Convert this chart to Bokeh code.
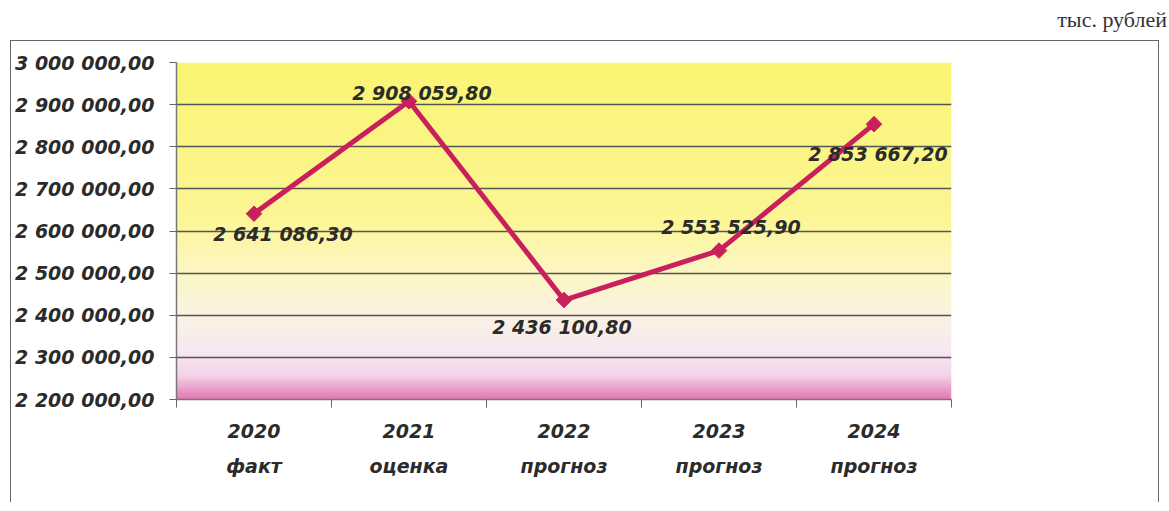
import numpy as np
from bokeh.plotting import figure
from bokeh.models import ColumnDataSource, Range1d, FixedTicker, Div
from bokeh.layouts import column
from bokeh.core.properties import value
from bokeh.embed import file_html
from bokeh.resources import INLINE

# ---- data ----
years = ["2020", "2021", "2022", "2023", "2024"]
kinds = ["факт", "оценка", "прогноз", "прогноз", "прогноз"]
amounts = [2641086.30, 2908059.80, 2436100.80, 2553525.90, 2853667.20]
amount_labels = ["2 641 086,30", "2 908 059,80", "2 436 100,80", "2 553 525,90", "2 853 667,20"]
y_ticks = [2200000, 2300000, 2400000, 2500000, 2600000, 2700000, 2800000, 2900000, 3000000]
y_tick_labels = ["2 200 000,00", "2 300 000,00", "2 400 000,00", "2 500 000,00", "2 600 000,00",
                 "2 700 000,00", "2 800 000,00", "2 900 000,00", "3 000 000,00"]
unit_label = "тыс. рублей"

# label placement (screen px offsets) - style only
lab_dx = [29, 13, -2, 12, 4]
lab_dy = [20, -8, 27, -24, 30]

FONT = "DejaVu Sans"
FS = "19px"
TXT = "#2b2b2b"
LINE = "#c91f5d"

n = len(years)
xc = [i + 0.5 for i in range(n)]

W, H = 1149, 462
p = figure(width=W, height=H, output_backend="svg", toolbar_location=None,
           x_range=Range1d(0, n), y_range=Range1d(y_ticks[0], y_ticks[-1]),
           min_border_left=165, min_border_right=209, min_border_top=21, min_border_bottom=104)
p.outline_line_color = None
p.background_fill_color = "white"
p.border_fill_color = "white"
p.margin = (0, 0, 0, 10)
p.styles = {"border-left": "1.5px solid #666666", "border-top": "1.5px solid #666666",
            "border-right": "1.5px solid #666666"}

# gradient backdrop of the plot area
stops_f = [0.0, 0.45, 0.6, 0.75, 0.86, 0.93, 1.0]
stops_c = [(250, 245, 115), (252, 246, 148), (252, 247, 190), (251, 243, 226),
           (247, 232, 241), (244, 212, 233), (228, 118, 178)]
rows = 300
f = np.linspace(1.0, 0.0, rows)  # row 0 = bottom
img = np.zeros((rows, 2), dtype=np.uint32)
view = img.view(dtype=np.uint8).reshape((rows, 2, 4))
for k in range(3):
    ch = np.interp(f, stops_f, [c[k] for c in stops_c])
    view[:, :, k] = ch[:, None].astype(np.uint8)
view[:, :, 3] = 255
p.image_rgba(image=[img], x=0, y=y_ticks[0], dw=n, dh=y_ticks[-1] - y_ticks[0], level="image")

# y axis
p.yaxis.ticker = FixedTicker(ticks=y_ticks)
p.yaxis.major_label_overrides = {t: l for t, l in zip(y_ticks, y_tick_labels)}
p.yaxis.minor_tick_line_color = None
p.yaxis.major_tick_out = 7
p.yaxis.major_tick_in = 0
p.yaxis.major_tick_line_color = "#666666"
p.yaxis.axis_line_color = "#777777"
p.yaxis.axis_line_width = 1.5
p.yaxis.major_label_standoff = 15
p.yaxis.major_label_text_font = FONT
p.yaxis.major_label_text_font_style = "bold italic"
p.yaxis.major_label_text_font_size = FS
p.yaxis.major_label_text_color = TXT

# x axis
p.xaxis.ticker = FixedTicker(ticks=xc, minor_ticks=list(range(n + 1)))
p.xaxis.major_label_overrides = {x: f"{y}\n{k}" for x, y, k in zip(xc, years, kinds)}
p.xaxis.major_tick_line_color = None
p.xaxis.major_tick_out = 0
p.xaxis.major_tick_in = 0
p.xaxis.minor_tick_out = 8
p.xaxis.minor_tick_in = 0
p.xaxis.minor_tick_line_color = "#666666"
p.xaxis.axis_line_color = "#777777"
p.xaxis.axis_line_width = 1.5
p.xaxis.major_label_standoff = 12
p.xaxis.major_label_text_font = FONT
p.xaxis.major_label_text_font_style = "bold italic"
p.xaxis.major_label_text_font_size = FS
p.xaxis.major_label_text_color = TXT
p.xaxis.major_label_text_line_height = 1.6

p.xgrid.grid_line_color = None
p.ygrid.grid_line_color = "#555555"
p.ygrid.grid_line_width = 1.4
p.ygrid.level = "underlay"

src = ColumnDataSource(dict(x=xc, y=amounts, lab=amount_labels, dx=lab_dx, dy=lab_dy))
p.line("x", "y", source=src, line_color=LINE, line_width=5)
p.scatter("x", "y", source=src, marker="square", angle=np.pi / 4, size=11,
          fill_color=LINE, line_color=LINE)
p.text("x", "y", text="lab", source=src, x_offset="dx", y_offset="dy",
       text_font=value(FONT), text_font_style="bold italic", text_font_size=FS,
       text_color=TXT, text_align="center", text_baseline="middle")

cap = Div(text=unit_label, width=1162, height=30,
          styles={"text-align": "right", "font-family": "'Liberation Serif', serif",
                  "font-size": "22px", "color": "#333333", "line-height": "30px"})

layout = column(cap, p, spacing=0)
open("out.html", "w").write(file_html(layout, INLINE))
